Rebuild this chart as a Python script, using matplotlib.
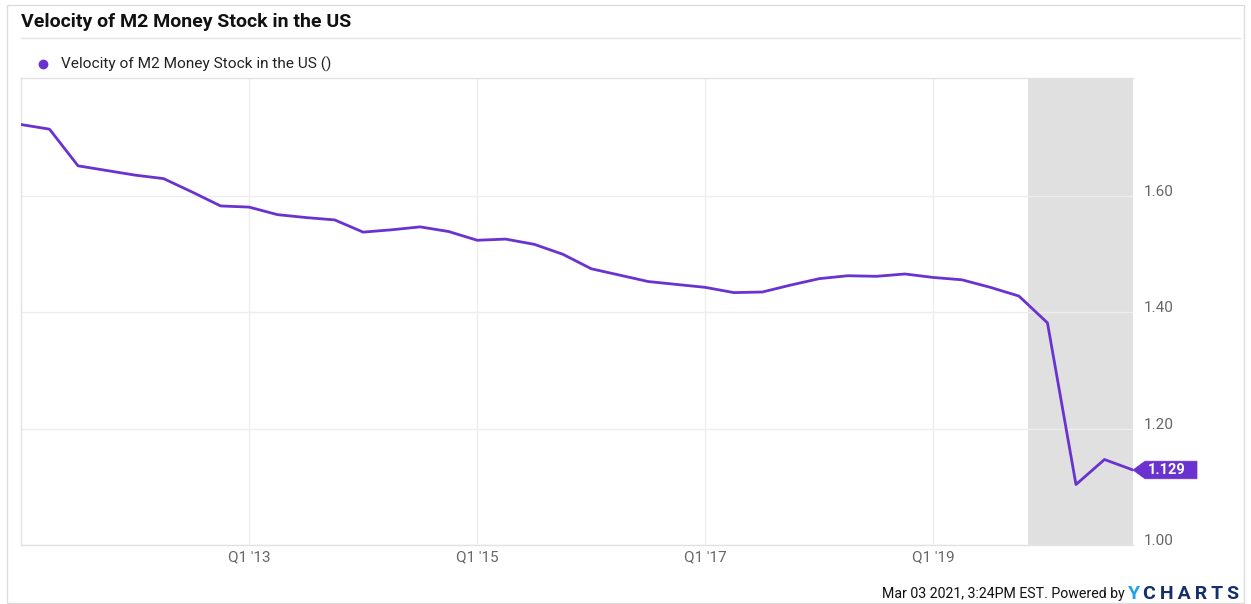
import matplotlib
matplotlib.use('Agg')
import matplotlib.pyplot as plt
from matplotlib.patches import Rectangle, Polygon
from matplotlib.lines import Line2D
from matplotlib.transforms import ScaledTranslation

# quarterly velocity of M2, Q1 2011 .. Q4 2020
quarters = [2011 + i / 4 for i in range(40)]
velocity = [1.723, 1.715, 1.652, 1.644, 1.636, 1.630, 1.607, 1.583,
            1.581, 1.568, 1.563, 1.559, 1.538, 1.542, 1.547, 1.539,
            1.524, 1.526, 1.517, 1.500, 1.475, 1.464, 1.453, 1.448,
            1.443, 1.434, 1.435, 1.447, 1.458, 1.463, 1.462, 1.466,
            1.460, 1.456, 1.443, 1.428, 1.382, 1.104, 1.147, 1.129]
recession = (2019.83, 2020.75)
x_ticks = [2013, 2015, 2017, 2019]
x_labels = ["Q1 '13", "Q1 '15", "Q1 '17", "Q1 '19"]
y_ticks = [1.00, 1.20, 1.40, 1.60]

purple = '#6a33cf'
grid_c = '#eeeeee'
plt.rcParams['font.family'] = ['Roboto', 'DejaVu Sans']

W, H = 1251, 604
fig = plt.figure(figsize=(W / 100, H / 100), dpi=100)

def fx(px):
    return px / W

def fy(py):
    return 1 - py / H

# outer frame and title rule
fig.add_artist(Rectangle((fx(7), fy(603)), fx(1244) - fx(7), fy(5) - fy(603),
                         transform=fig.transFigure, fill=False, edgecolor='#dddddd', lw=1))
fig.add_artist(Line2D([fx(21), fx(1240)], [fy(38), fy(38)], transform=fig.transFigure,
                      color='#e4e4e4', lw=1))
fig.text(fx(21), fy(22), 'Velocity of M2 Money Stock in the US', fontsize=14,
         fontweight='bold', color='#111111', va='center')
fig.add_artist(Line2D([fx(43)], [fy(64)], transform=fig.transFigure, marker='o',
                      markersize=6, color=purple, lw=0))
fig.text(fx(61), fy(64), 'Velocity of M2 Money Stock in the US ()', fontsize=11.1,
         color='#222222', va='center')

ax = fig.add_axes([fx(21), fy(545), fx(1133) - fx(21), fy(78) - fy(545)])
ax.axvspan(recession[0], recession[1], color='#e0e0e0', lw=0, zorder=0)
ax.plot(quarters, velocity, color=purple, lw=2, zorder=3, solid_joinstyle='round')

ax.set_xlim(2011, 2020.75)
ax.set_ylim(1.0, 1.803)
ax.set_xticks(x_ticks)
ax.set_xticklabels(x_labels)
ax.set_yticks(y_ticks)
ax.set_yticklabels(['%.2f' % v for v in y_ticks])
ax.yaxis.tick_right()
ax.tick_params(axis='both', length=0, labelsize=11, labelcolor='#666666')
ax.tick_params(axis='y', pad=8)
ax.tick_params(axis='x', pad=4)
plt.setp(ax.get_yticklabels(), va='baseline')
ax.grid(True, color=grid_c, lw=1, zorder=1)
ax.spines['right'].set_visible(False)
for s in ['top', 'left', 'bottom']:
    ax.spines[s].set_color('#e2e2e2')
    ax.spines[s].set_linewidth(1)

# last value flag, drawn in pixel offsets from the last point
last = velocity[-1]
anchor = fig.dpi_scale_trans + ScaledTranslation(quarters[-1], last, ax.transData)
flag = [(0, 0), (0.12, 0.088), (0.64, 0.088), (0.64, -0.088), (0.12, -0.088)]
ax.add_patch(Polygon(flag, closed=True, transform=anchor, fc=purple, ec=purple,
                     lw=0.5, clip_on=False, zorder=5))
ax.text(0.34, 0.0, '%.3f' % last, transform=anchor, ha='center', va='center',
        fontsize=10.5, fontweight='bold', color='white', zorder=6, clip_on=False)

# footer
fig.text(fx(1125), fy(594), 'Mar 03 2021, 3:24PM EST. Powered by', fontsize=10.2,
         color='#111111', ha='right', va='center')
fig.text(fx(1128), fy(594), 'Y', fontsize=14, fontweight='bold', color='#1fa3e8',
         va='center')
fig.text(fx(1143), fy(594), '\u2009'.join('CHARTS'), fontsize=14,
         fontweight='bold', color='#152f6b', va='center')

fig.savefig('out.png', dpi=100)
